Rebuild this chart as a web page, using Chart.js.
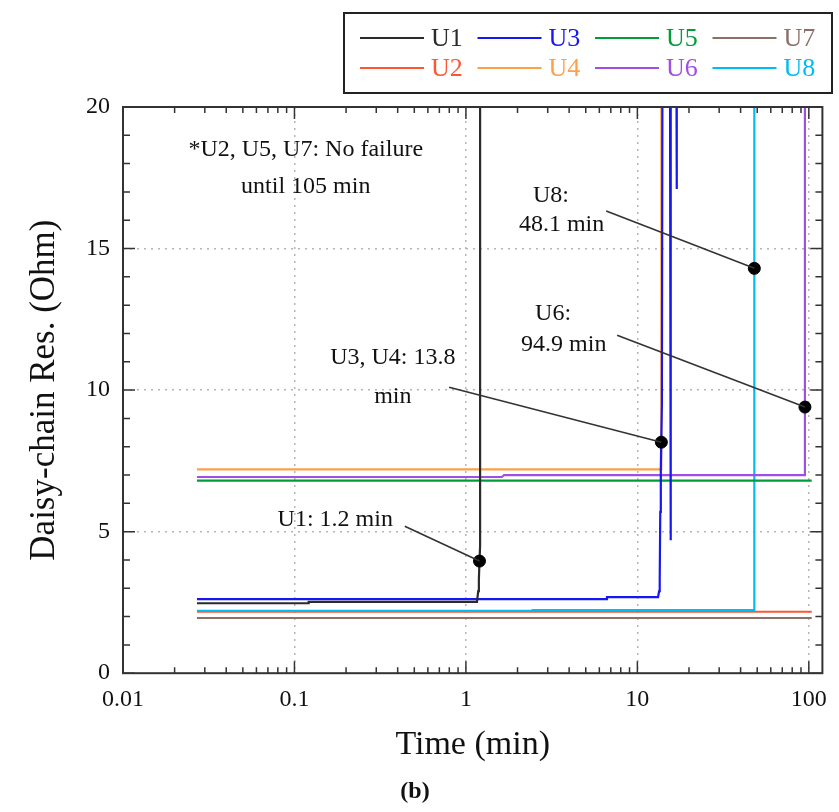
<!DOCTYPE html>
<html>
<head>
<meta charset="utf-8">
<title>Daisy-chain resistance</title>
<script src="https://cdn.jsdelivr.net/npm/chart.js@4.4.1/dist/chart.umd.min.js"></script>
<style>
  html, body { margin: 0; padding: 0; background: #fff; }
  #wrap { width: 839px; height: 812px; }
</style>
</head>
<body>
<div id="wrap"><canvas id="resChart"></canvas></div>
<script>
const FONT = "'Liberation Serif', 'Times New Roman', serif";

const SERIES = ['U1', 'U2', 'U3', 'U4', 'U5', 'U6', 'U7', 'U8'];
const COLORS = ['#2b2b2b', '#ff5632', '#1717f2', '#ffa048', '#009c3c', '#a04fe4', '#8c6f67', '#00bdef'];

// [time (min), resistance (Ohm)]
const u1 = [[0.027, 2.47], [0.12, 2.47], [0.121, 2.52], [1.16, 2.52], [1.18, 2.9], [1.19, 3.3], [1.2, 3.96], [1.21, 4.5], [1.21, 21]];
const u2 = [[0.027, 2.17], [104, 2.17]];
const u3 = [[0.027, 2.62], [6.6, 2.62], [6.65, 2.69], [13.2, 2.69], [13.4, 2.9], [13.5, 3.3], [13.6, 5.7], [13.7, 7.2], [13.9, 9.5], [14.0, 21],
            [15.5, 21], [15.6, 4.7], [15.7, 21], [16.9, 21], [16.95, 17.1], [17.0, 21]];
const u4 = [[0.027, 7.2], [13.8, 7.2], [13.8, 21]];
const u5 = [[0.027, 6.8], [104, 6.8]];
const u6 = [[0.027, 6.93], [1.62, 6.93], [1.67, 7.0], [94.9, 7.0], [94.9, 21]];
const u7 = [[0.027, 1.95], [104, 1.95]];
const u8 = [[0.027, 2.2], [2.4, 2.2], [2.45, 2.23], [48.1, 2.23], [48.1, 21]];
const SERIES_DATA = [u1, u2, u3, u4, u5, u6, u7, u8];

// failure points marked on the traces
const FAIL_TIME = [1.2, 13.8, 48.1, 94.9];
const FAIL_RES = [3.96, 8.16, 14.3, 9.4];

const X_TICKS = [0.01, 0.1, 1, 10, 100];
const X_LABELS = ['0.01', '0.1', '1', '10', '100'];
const Y_TICKS = [0, 5, 10, 15, 20];

// callouts, placed in data coordinates; "to" is the failure point index
const NOTES = [
  { lines: ['*U2, U5, U7: No failure', 'until 105 min'], at: [0.1164, 18.48], gap: 37, align: 'center' },
  { lines: ['U1: 1.2 min'], at: [0.173, 5.41], align: 'center', from: [0.44, 5.19], to: 0 },
  { lines: ['U3, U4: 13.8', 'min'], at: [0.3746, 11.13], gap: 39, align: 'center', from: [0.798, 10.1], to: 1 },
  { lines: ['U8:', '48.1 min'], at: [6.41, 16.85], gap: 29, align: 'right', from: [6.58, 16.33], to: 2 },
  { lines: ['U6:', '94.9 min'], at: [6.6, 12.69], gap: 31, align: 'right', from: [7.62, 11.94], to: 3 }
];

const datasets = SERIES.map((name, i) => ({
  label: name,
  data: SERIES_DATA[i].map(p => ({ x: p[0], y: p[1] })),
  borderColor: COLORS[i],
  backgroundColor: COLORS[i],
  borderWidth: 2.2,
  showLine: true,
  pointRadius: 0,
  order: name === 'U2' ? 1 : 0
}));
datasets.push({
  label: 'failure',
  data: FAIL_TIME.map((t, i) => ({ x: t, y: FAIL_RES[i] })),
  showLine: false,
  pointRadius: 6,
  pointBackgroundColor: '#000',
  pointBorderColor: '#000',
  order: -1
});

// boxed two-row legend above the plot
const boxLegend = {
  id: 'boxLegend',
  afterDraw(chart) {
    const ctx = chart.ctx;
    ctx.save();
    ctx.lineWidth = 2;
    ctx.strokeStyle = '#222';
    ctx.strokeRect(344, 13, 488, 80);
    ctx.font = '26px ' + FONT;
    ctx.textBaseline = 'middle';
    chart.data.datasets.slice(0, SERIES.length).forEach((ds, i) => {
      const x0 = 360 + Math.floor(i / 2) * 117.5;
      const y0 = 38 + (i % 2) * 30;
      ctx.strokeStyle = ds.borderColor;
      ctx.lineWidth = 2;
      ctx.beginPath();
      ctx.moveTo(x0, y0);
      ctx.lineTo(x0 + 64, y0);
      ctx.stroke();
      ctx.fillStyle = ds.borderColor;
      ctx.fillText(ds.label, x0 + 71, y0 + 1);
    });
    ctx.restore();
  }
};

// plot frame with inward ticks on all four sides
const frameTicks = {
  id: 'frameTicks',
  afterDatasetsDraw(chart) {
    const { ctx, chartArea: a, scales: { x, y } } = chart;
    ctx.save();
    ctx.strokeStyle = '#333';
    ctx.lineWidth = 1.5;
    ctx.beginPath();
    for (let e = -2; e <= 2; e++) {
      for (let k = 1; k <= 9; k++) {
        const v = k * Math.pow(10, e);
        if (v > x.max) break;
        const px = x.getPixelForValue(v);
        const len = k === 1 ? 12 : 6;
        ctx.moveTo(px, a.bottom); ctx.lineTo(px, a.bottom - len);
        ctx.moveTo(px, a.top); ctx.lineTo(px, a.top + len);
      }
    }
    for (let v = y.min; v <= y.max; v++) {
      const py = y.getPixelForValue(v);
      const len = v % 5 === 0 ? 12 : 7;
      ctx.moveTo(a.left, py); ctx.lineTo(a.left + len, py);
      ctx.moveTo(a.right, py); ctx.lineTo(a.right - len, py);
    }
    ctx.stroke();
    ctx.lineWidth = 2;
    ctx.strokeRect(a.left, a.top, a.right - a.left, a.bottom - a.top);
    ctx.restore();
  }
};

// callout text and leader lines
const callouts = {
  id: 'callouts',
  afterDatasetsDraw(chart) {
    const { ctx, scales: { x, y } } = chart;
    const dots = chart.getDatasetMeta(SERIES.length).data;
    ctx.save();
    ctx.font = '24px ' + FONT;
    ctx.fillStyle = '#111';
    ctx.textBaseline = 'middle';
    NOTES.forEach(n => {
      const px = x.getPixelForValue(n.at[0]);
      const py = y.getPixelForValue(n.at[1]);
      if (n.align === 'right') {
        const w = ctx.measureText(n.lines[1]).width;
        ctx.textAlign = 'left';
        ctx.fillText(n.lines[0], px - w + 14, py);
        ctx.textAlign = 'right';
        ctx.fillText(n.lines[1], px, py + n.gap);
      } else {
        ctx.textAlign = 'center';
        n.lines.forEach((t, j) => ctx.fillText(t, px, py + j * (n.gap || 0)));
      }
      if (n.from) {
        const d = dots[n.to];
        ctx.strokeStyle = '#333';
        ctx.lineWidth = 1.6;
        ctx.beginPath();
        ctx.moveTo(x.getPixelForValue(n.from[0]), y.getPixelForValue(n.from[1]));
        ctx.lineTo(d.x, d.y);
        ctx.stroke();
      }
    });
    ctx.restore();
  }
};

const gridAt = (ticks) => (c) => (c.tick && ticks.includes(c.tick.value) ? '#b5b5b5' : 'rgba(0,0,0,0)');

new Chart(document.getElementById('resChart'), {
  type: 'scatter',
  data: { datasets: datasets },
  options: {
    responsive: true,
    maintainAspectRatio: false,
    animation: false,
    layout: { padding: { top: 107, right: 9, left: 0, bottom: 0 } },
    plugins: {
      legend: { display: false },
      tooltip: { enabled: false },
      title: {
        display: true,
        text: '(b)',
        position: 'bottom',
        color: '#111',
        font: { family: FONT, size: 24, weight: 'bold' },
        padding: { top: 0, bottom: 6 }
      }
    },
    scales: {
      x: {
        type: 'logarithmic',
        min: 0.01,
        max: 120,
        afterBuildTicks: s => { s.ticks = X_TICKS.map(v => ({ value: v })); },
        afterFit: s => { s.height = 104; },
        ticks: {
          callback: (v) => X_LABELS[X_TICKS.indexOf(v)] || '',
          color: '#111',
          font: { family: FONT, size: 24 },
          padding: 12,
          maxRotation: 0,
          autoSkip: false
        },
        grid: { color: gridAt([0.1, 1, 10, 100]), lineWidth: 1.5, drawTicks: false },
        border: { display: false, dash: [2, 5] },
        title: {
          display: true,
          text: 'Time (min)',
          color: '#111',
          font: { family: FONT, size: 34 },
          padding: { top: 0, bottom: 12 }
        }
      },
      y: {
        min: 0,
        max: 20,
        afterBuildTicks: s => { s.ticks = Y_TICKS.map(v => ({ value: v })); },
        afterFit: s => { s.width = 123; },
        ticks: {
          color: '#111',
          font: { family: FONT, size: 24 },
          padding: 13
        },
        grid: { color: gridAt([5, 10, 15]), lineWidth: 1.5, drawTicks: false },
        border: { display: false, dash: [2, 5] },
        title: {
          display: true,
          text: 'Daisy-chain Res. (Ohm)',
          color: '#111',
          font: { family: FONT, size: 35 },
          padding: { top: 24, bottom: 0 }
        }
      }
    }
  },
  plugins: [frameTicks, callouts, boxLegend]
});
</script>
</body>
</html>
